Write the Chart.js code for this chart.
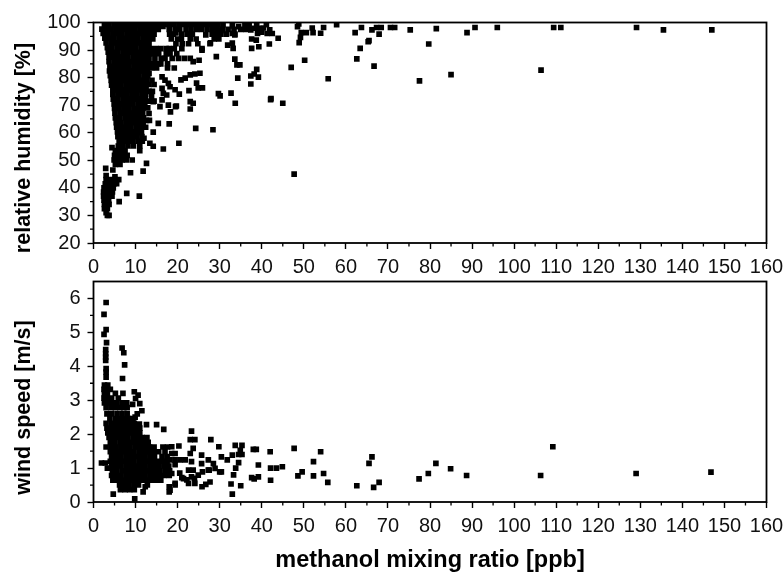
<!DOCTYPE html>
<html><head><meta charset="utf-8">
<script src="https://cdn.jsdelivr.net/npm/chart.js@4/dist/chart.umd.min.js"></script>
<style>
html,body{margin:0;padding:0;background:#fff;overflow:hidden}
canvas{position:absolute;left:0;display:block}
</style></head><body>
<canvas id="top" width="783" height="280" style="top:0"></canvas>
<canvas id="bottom" width="783" height="320" style="top:255px"></canvas>
<script>
const xTitle = "methanol mixing ratio [ppb]";
const topYTitle = "relative humidity [%]";
const bottomYTitle = "wind speed [m/s]";

// relative humidity: each row is [humidity, methanol, methanol, ...]
const humidityRows = [
[99.2,2.6,3.7,4.9,6.0,7.2,8.3,9.5,10.6,11.7,12.9],
[97.6,2.0,3.1,4.2,5.4,6.5,7.6,8.8,9.9,11.1,12.2],
[96.0,2.3,3.4,4.6,5.7,6.8,8.0,9.1,10.3,11.4,12.6],
[94.3,2.7,3.8,4.9,6.1,7.2,8.4,9.5,10.6,11.8,12.9],
[92.6,3.0,4.2,5.3,6.4,7.6,8.7,9.8,11.0,12.1],
[90.9,3.3,4.4,5.6,6.7,7.9,9.0,10.1,11.3,12.4],
[89.2,3.5,4.7,5.8,7.0,8.1,9.2,10.4,11.5,12.6],
[87.5,3.7,4.8,6.0,7.1,8.2,9.4,10.5,11.6,12.4],
[85.8,3.7,4.9,6.0,7.2,8.3,9.5,10.6,11.7,12.6],
[84.1,3.9,5.0,6.2,7.3,8.4,9.6,10.7,11.9,12.7],
[82.4,3.8,5.0,6.1,7.2,8.4,9.5,10.7,11.8,12.8],
[80.7,4.0,5.2,6.3,7.4,8.6,9.7,10.8,12.0,12.9],
[79.0,4.2,5.3,6.4,7.6,8.7,9.8,11.0,12.1,12.7],
[77.3,4.3,5.4,6.5,7.7,8.8,10.0,11.1,12.2],
[75.6,4.6,5.7,6.9,8.0,9.1,10.3,11.4,12.5],
[73.9,4.6,5.8,6.9,8.0,9.2,10.3,11.5,12.4],
[72.2,4.7,5.8,7.0,8.1,9.2,10.4,11.5,12.3],
[70.5,4.9,6.0,7.2,8.3,9.4,10.6,11.7,12.2],
[68.8,5.0,6.1,7.3,8.4,9.6,10.7,11.7],
[67.1,5.1,6.3,7.4,8.5,9.7,10.8,11.7],
[65.4,5.2,6.3,7.5,8.6,9.8,10.9,11.9],
[63.7,5.4,6.5,7.7,8.8,9.9,11.0,11.8],
[62.0,5.5,6.6,7.8,8.9,10.1,11.2],
[60.3,5.7,6.8,7.9,9.1,10.2,11.1],
[58.6,5.8,6.9,8.1,9.2,10.3,11.5],
[56.9,6.1,7.2,8.3,9.4,10.6,11.6],
[55.2,5.9,7.0,8.2,9.5,11.0],
[53.5,5.2,6.4,7.5,11.0],
[51.8,5.0,6.1,7.2,8.0],
[50.1,4.9,5.8,6.8,7.8,9.2],
[48.5,5.2,6.3],
[44.5,3.0],[43.0,3.0,4.1,5.1,6.0],[41.5,2.8,3.9,4.9,5.5],[40.0,2.5,3.6,4.7],
[38.5,2.4,3.5,4.5],[37.0,2.4,3.5,4.4],[35.5,2.5,3.6],[34.0,2.6,3.7],
[32.5,2.6,3.3],[31.0,3.0],[30.0,3.3,3.7],
// upper band and right shoulder of the cloud
[99.3,13.5,14.6,15.7,16.8,18.0,19.1,20.3,21.4,22.6,23.7,25.0,26.2,27.3,28.5,29.6],
[97.5,13.0,14.2,15.4,18.0,19.4,20.5,22.0,23.2,24.5,25.7,27.0,28.2,29.4,30.7,32.0,33.4,35.0,36.2],
[95.8,13.4,14.4,18.1,19.0,21.0,22.3,23.5,28.2,29.2,30.3,31.6,33.6],
[94.0,13.2,14.1,18.5,20.0,20.9,23.0,24.4,28.7,29.8],
[92.3,13.2,19.6,21.1,22.6,24.8,27.7],
[90.5,13.5,14.8,16.0,17.3,18.0,25.8,19.2,21.0],
[88.7,13.3,14.2,15.5,17.3,18.2,19.8],
[87.0,13.2,14.6,16.1,17.0,18.7,20.2,21.6,23.0],
[85.0,13.0,14.3,15.4,16.0,17.6],
[83.5,12.8,13.8,15.0,17.6,19.2],
[81.5,13.2],[79.0,13.9],[77.5,13.2,14.4],[75.0,13.2,14.0],[73.0,13.8],[71.5,13.0,14.4],
[69.0,12.9],[67.0,13.2],[64.5,12.6,13.3],[62.0,12.4],[60.0,11.4],[58.0,12.0]
];

// remaining isolated humidity points as [methanol, humidity]
const humidityPoints = [
[47.7,45.0],[45.0,70.7],[42.2,72.4],[42.1,72.0],[47.0,83.7],[50.2,86.3],[55.8,79.6],[62.6,86.8],
[66.7,84.2],[77.5,78.8],[85.0,81.1],[106.4,82.7],[129.1,98.2],[135.5,97.3],[147.0,97.3],[109.4,98.2],
[111.1,98.2],[96.0,98.2],[90.7,98.2],[88.8,96.3],[81.5,97.8],[79.7,92.2],[75.3,97.3],[70.6,98.2],
[71.6,98.2],[68.4,98.2],[67.3,98.2],[67.9,95.8],[66.2,97.3],[65.5,93.4],[65.3,93.0],[63.4,90.6],
[63.7,98.2],[62.2,96.3],[57.8,99.2],[54.7,98.2],[54.0,96.1],[52.2,96.3],[52.0,98.0],[50.6,96.3],
[49.4,96.3],[49.2,94.6],[48.9,92.7],[48.5,98.5],[48.8,99.5],[43.9,94.3],[41.8,92.2],[42.5,96.0],
[41.3,96.0],[41.9,97.3],[41.1,99.2],[40.4,98.0],[39.3,91.2],[37.6,90.6],[38.7,93.6],[37.6,94.0],
[39.2,97.9],[38.2,97.9],[37.4,97.3],[38.8,83.0],[38.2,81.3],[39.2,80.2],[37.4,80.6],[37.4,77.7],
[31.9,91.8],[33.0,92.5],[33.2,90.6],[29.2,87.6],[33.6,86.7],[34.8,84.6],[34.1,84.6],[34.3,79.8],
[29.7,74.2],[32.7,74.4],[33.7,70.7],[28.7,98.0],[30.3,97.0],[30.8,99.2],[33.0,98.8],[34.5,98.5],
[36.0,99.0],[37.0,99.2],[38.8,98.9],[40.0,96.5],[39.0,96.0],[33.0,96.0],[33.6,95.5],
[25.8,90.0],[25.1,86.3],[23.7,85.8],[25.3,81.6],[24.1,81.3],[23.0,81.0],[21.8,79.8],[20.8,79.2],
[24.5,78.0],[24.9,76.3],[25.9,76.3],[22.7,75.3],[18.2,76.7],[19.4,75.6],[20.4,74.0],[16.3,80.3],
[17.0,79.1],[17.8,77.9],[16.3,76.1],[16.6,74.3],[17.4,73.7],[19.5,69.5],[18.3,67.6],[17.8,70.0],
[15.8,69.5],[16.3,71.9],[14.2,71.3],[15.4,63.4],[18.0,63.2],[14.2,60.2],[20.3,56.2],[16.6,54.1],
[13.4,56.2],[14.2,55.1],[24.3,61.6],[28.4,61.1],[23.0,71.3],[23.7,70.7],[23.0,68.6],[19.7,69.7],
[12.6,48.9],[8.8,45.5],[11.8,46.1],[2.9,47.1],[5.1,44.0],[4.6,46.5],[7.9,38.0],[10.9,37.0],[6.1,35.0],
[4.4,54.6],[30.1,73.4],[16.5,98.6],[19.6,96.2],[26.7,95.5],[27.8,92.6]
];

// wind speed: each row is [wind speed, methanol, methanol, ...]
const windRows = [
[3.45,2.6,3.4],[3.32,2.5,3.1,4.0],[3.2,2.6,3.3,5.2,7.0],[3.06,2.5,3.2,4.3,5.9],[2.92,2.6,3.5,4.6,5.6,6.8,7.9],
[2.78,3.0,4.2,5.2,6.3,7.2,8.0],
[2.60,3.2,4.3,5.6,6.8,8.0],
[2.46,3.9,5.2,6.1,7.2,8.3,9.4],
[2.32,3.0,4.3,5.3,6.4,7.5,8.6,9.7],
[2.18,3.2,4.3,5.4,6.6,7.7,8.8,9.9,11.0],
[2.04,3.4,4.5,5.6,6.7,7.9,9.0,10.1,11.0],
[1.90,3.7,4.8,6.0,7.1,8.2,9.4,10.5,11.6,12.7],
[1.76,4.0,5.1,6.3,7.4,8.5,9.7,10.8,11.9,13.0],
[1.62,3.0,4.2,5.3,6.5,7.6,8.7,9.9,11.0,12.1,13.3,14.4,16.5,17.6],
[1.48,4.0,5.1,6.2,7.4,8.5,9.6,10.8,11.9,13.0,14.2,15.5,17.0],
[1.34,4.3,5.4,6.5,7.7,8.8,10.0,11.1,12.2,13.4,14.5,16.3,17.5],
[1.20,4.0,5.1,6.2,7.4,8.5,9.6,10.8,11.9,13.0,14.2,15.3,16.4,17.5],
[1.06,4.3,5.4,6.5,7.7,8.8,10.0,11.1,12.2,13.4,14.5,15.6,16.8,17.9],
[0.92,4.5,5.6,6.8,7.9,9.0,10.2,11.3,12.4,13.6,14.7,15.8,17.0,18.1],
[0.78,4.3,5.4,6.5,7.7,8.8,10.0,11.1,12.2,13.4,14.5,15.7,16.8,18.0],
[0.64,4.6,5.7,6.9,8.0,9.1,10.3,11.4,12.6,13.7,14.8,16.0],
[0.50,6.2,7.3,8.4,9.6,10.7,12.8],
[0.36,6.4,7.5,8.6,9.7]
];

// remaining isolated wind points as [methanol, wind speed]
const windPoints = [
[3.0,5.88],[2.5,5.53],[3.0,5.08],[2.5,4.94],[3.1,4.7],[2.9,4.49],[2.9,4.37],[2.9,4.27],[2.9,4.17],[3.0,3.93],[3.0,3.83],[3.0,3.68],
[6.8,4.54],[7.2,4.4],[7.4,4.04],[6.9,3.64],[9.7,3.25],[10.6,3.15],[11.0,2.9],[11.5,2.69],
[10.0,3.05],[9.3,2.88],[9.9,2.5],[10.4,2.6],[12.6,2.28],[15.0,2.28],[16.7,2.14],[10.9,2.3],
[1.9,1.15],[2.8,1.15],[3.3,1.0],[4.7,0.23],[9.8,0.09],[11.8,0.3],[18.0,0.3],[18.0,0.45],[19.4,0.5],[12.3,0.45],
[23.3,2.09],[23.0,1.84],[24.1,1.84],[27.9,1.84],[29.8,1.63],[33.7,1.67],[35.3,1.67],[34.9,1.52],[35.3,1.4],[34.5,1.4],
[33.0,1.38],[31.8,1.24],[30.4,1.33],[34.5,1.16],[33.8,1.0],[33.3,0.8],[32.7,0.53],[33.0,0.23],[35.0,0.48],
[38.0,1.55],[38.7,1.55],[42.0,1.48],[47.7,1.58],[54.0,1.48],[52.3,1.19],[39.2,1.09],[44.9,1.04],[42.1,1.0],[43.5,1.0],
[37.6,0.72],[38.2,0.68],[39.2,0.74],[42.1,0.64],[48.6,0.77],[49.6,0.89],[52.3,0.77],[54.7,0.84],[55.7,0.58],
[25.7,1.38],[27.3,1.24],[28.5,1.13],[28.9,0.99],[30.0,0.89],[30.4,0.89],[27.3,0.94],[25.7,1.13],[25.9,0.89],[24.9,0.79],[27.5,0.94],
[27.7,0.59],[26.7,0.52],[25.8,0.45],[24.1,0.55],[23.3,0.74],[22.2,0.65],[21.4,0.69],[22.6,0.94],[23.3,1.19],[23.7,0.94],
[19.4,0.55],[18.2,0.35],[21.8,1.24],[20.6,1.24],[19.4,1.24],[18.2,1.24],[20.3,1.65],[18.6,1.63],[18.6,1.43],[19.4,1.43],
[19.4,1.1],[18.6,0.84],[23.7,1.58],[23.0,1.43],[21.0,0.72],[22.6,0.55],[24.0,0.7],[20.5,0.85],
[62.6,0.48],[65.5,1.14],[66.2,1.33],[66.6,0.43],[67.9,0.58],[77.4,0.68],[79.6,0.84],[81.4,1.14],[84.9,0.98],[88.7,0.78],
[106.3,0.78],[109.2,1.63],[129.0,0.84],[146.8,0.88]
];

const rowsToPoints = rows => rows.flatMap(r => r.slice(1).map(x => ({x, y: r[0]})));
const pairsToPoints = pairs => pairs.map(p => ({x: p[0], y: p[1]}));

const FONT = "'Liberation Sans', Arial, sans-serif";

const framePlugin = (yTitle, yCenter, minorY) => ({
  id: 'frame',
  afterDraw(chart) {
    const c = chart.ctx, a = chart.chartArea, sx = chart.scales.x, sy = chart.scales.y;
    c.save();
    c.strokeStyle = '#000'; c.lineWidth = 1.8;
    c.strokeRect(a.left, a.top, a.right - a.left, a.bottom - a.top);
    c.lineWidth = 1.3;
    c.beginPath();
    for (let v = 5; v < 160; v += 10) {
      const p = sx.getPixelForValue(v);
      c.moveTo(p, a.bottom); c.lineTo(p, a.bottom + 3.5);
    }
    minorY.forEach(v => {
      const p = sy.getPixelForValue(v);
      c.moveTo(a.left, p); c.lineTo(a.left - 3.5, p);
    });
    c.stroke();
    c.fillStyle = '#000';
    c.font = "bold 21.5px " + FONT;
    c.textAlign = 'center'; c.textBaseline = 'middle';
    c.translate(24, yCenter); c.rotate(-Math.PI / 2);
    c.fillText(yTitle, 0, 0);
    c.restore();
  }
});

function makeChart(id, pts, yMin, yMax, yStep, pad, xHeight, showXTitle, plugin) {
  return new Chart(document.getElementById(id), {
    type: 'scatter',
    data: { datasets: [{ data: pts, pointStyle: 'rect', pointRadius: 4, pointBorderWidth: 0,
      backgroundColor: '#000', borderColor: '#000', pointHoverRadius: 4 }] },
    options: {
      responsive: false, animation: false, events: [],
      layout: { padding: { top: pad, right: 16.5, left: 0, bottom: 0 } },
      plugins: { legend: { display: false }, tooltip: { enabled: false }, title: { display: false } },
      scales: {
        x: {
          type: 'linear', min: 0, max: 160,
          grid: { drawOnChartArea: false, tickLength: 6, tickWidth: 1.4, tickColor: '#000' },
          border: { display: false },
          ticks: { stepSize: 10, maxRotation: 0, autoSkip: false, color: '#111', padding: 6, font: { family: FONT, size: 20 } },
          title: { display: showXTitle, text: xTitle, color: '#000', font: { family: FONT, size: 23.5, weight: 'bold' }, padding: { top: 0, bottom: 0 } },
          afterFit: s => { s.height = xHeight; s.paddingLeft = 0; s.paddingRight = 0; }
        },
        y: {
          min: yMin, max: yMax,
          grid: { drawOnChartArea: false, tickLength: 6, tickWidth: 1.4, tickColor: '#000' },
          border: { display: false },
          ticks: { stepSize: yStep, includeBounds: false, autoSkip: false, color: '#111', padding: 7, font: { family: FONT, size: 20 },
            callback: v => (Number.isInteger(v) ? v : '') },
          afterFit: s => { s.width = 93.5; }
        }
      }
    },
    plugins: [plugin]
  });
}

const humidityData = rowsToPoints(humidityRows).concat(pairsToPoints(humidityPoints));
const windData = rowsToPoints(windRows).concat(pairsToPoints(windPoints));

makeChart('top', humidityData, 20, 100, 10, 22.5, 37, false,
  framePlugin(topYTitle, 148, [25,35,45,55,65,75,85,95]));
makeChart('bottom', windData, 0, 6.5, 1, 26.5, 73, true,
  framePlugin(bottomYTitle, 152.5, [0.5,1.5,2.5,3.5,4.5,5.5]));
</script>
</body></html>
